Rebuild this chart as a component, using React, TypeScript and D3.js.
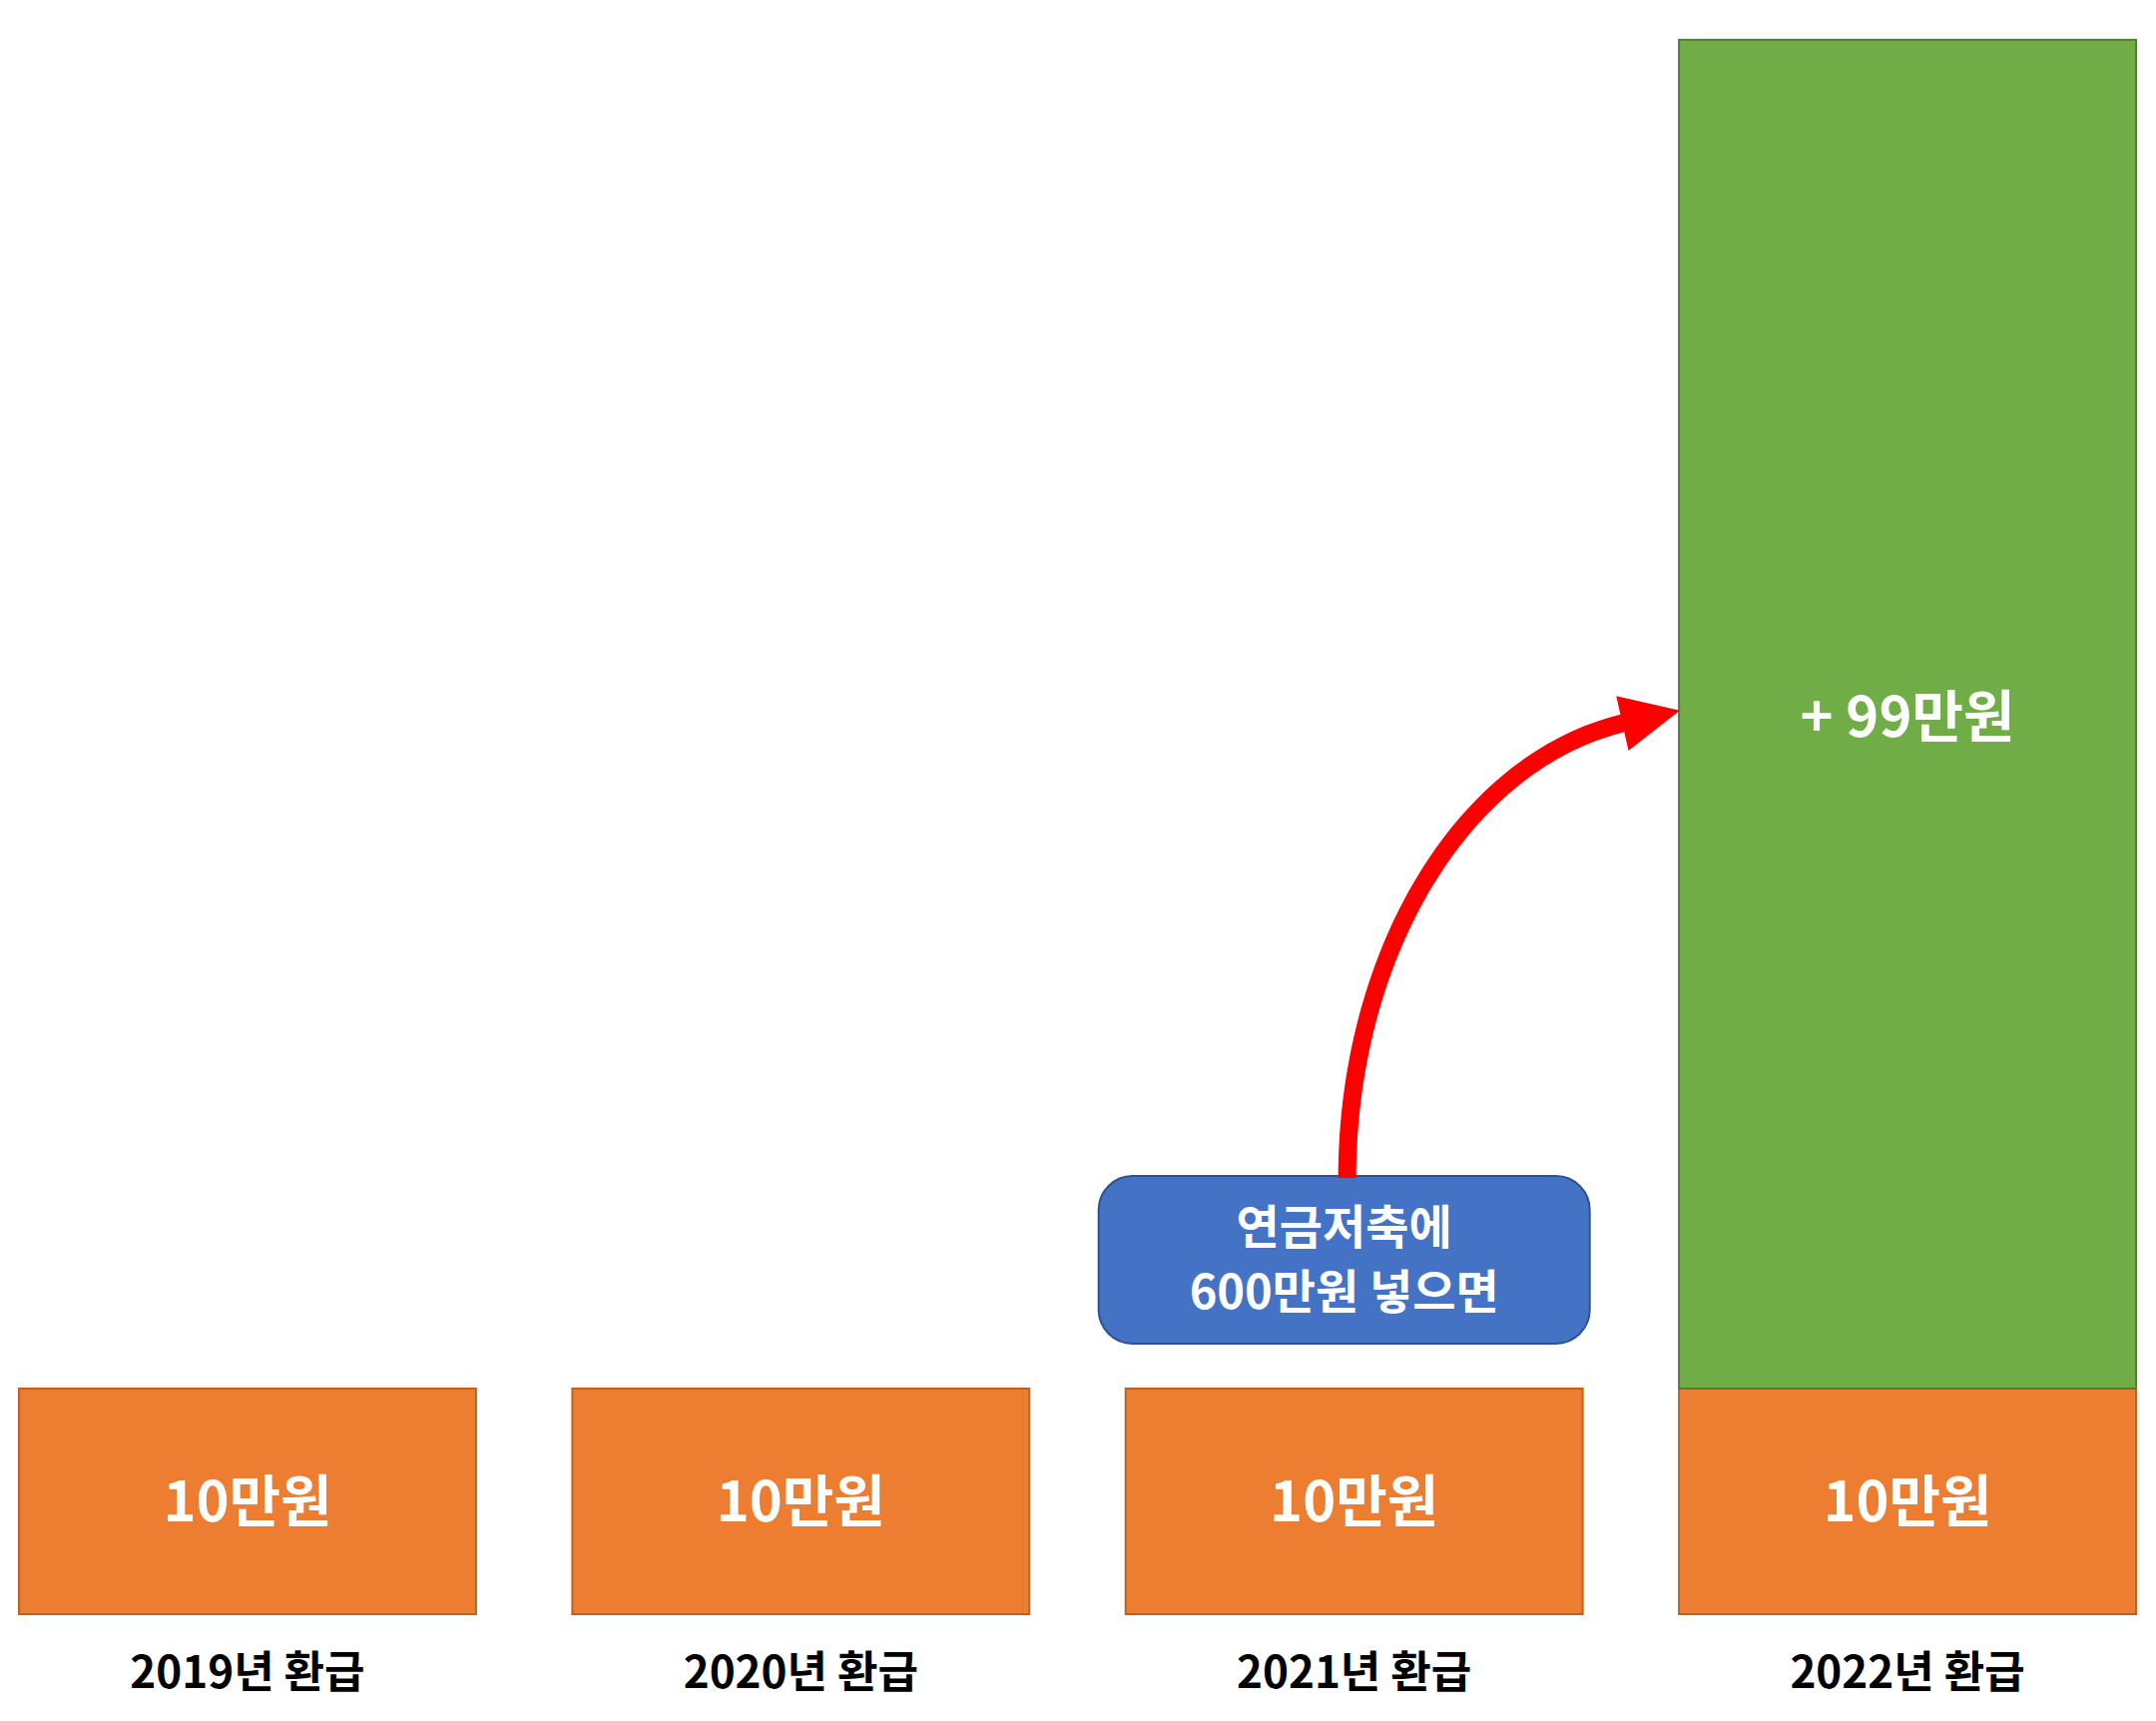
import React, { useEffect, useRef } from 'react';
import * as d3 from 'd3';

// refund per year, in 만원
const years = ['2019년 환급', '2020년 환급', '2021년 환급', '2022년 환급'];
const baseRefund = [10, 10, 10, 10];
const extraRefund = [0, 0, 0, 99];
const baseLabels = ['10만원', '10만원', '10만원', '10만원'];
const extraLabels = ['', '', '', '+ 99만원'];
const noteLines = ['연금저축에', '600만원 넣으면'];
const noteYear = '2021년 환급';

const W = 2160, H = 1724;
const FONT = '"Noto Sans CJK KR", "Noto Sans", sans-serif';

const App = () => {
    const ref = useRef(null);

    useEffect(() => {
        document.body.style.margin = '0';
        const svg = d3.select(ref.current);
        svg.selectAll('*').remove();
        svg.attr('width', W).attr('height', H);

        const baseline = 1617;

        const x = d3.scaleBand()
            .domain(years)
            .range([19, 2140])
            .paddingInner(0.174)
            .paddingOuter(0);

        // picture is not to scale, the big segment is squashed
        const h = d3.scalePow().exponent(0.78).domain([0, 10]).range([0, 226]);

        const data = years.map((y, i) => ({
            year: y,
            base: baseRefund[i],
            extra: extraRefund[i],
            baseLabel: baseLabels[i],
            extraLabel: extraLabels[i],
        }));

        const g = svg.append('g');

        const bar = g.selectAll('.bar')
            .data(data)
            .enter().append('g')
            .attr('class', 'bar');

        bar.append('rect')
            .attr('x', d => x(d.year))
            .attr('y', d => baseline - h(d.base))
            .attr('width', x.bandwidth())
            .attr('height', d => h(d.base))
            .attr('fill', '#ED7D31')
            .attr('stroke', '#C0621F')
            .attr('stroke-width', 2);

        bar.filter(d => d.extra > 0).append('rect')
            .attr('x', d => x(d.year))
            .attr('y', d => baseline - h(d.base) - h(d.extra))
            .attr('width', x.bandwidth())
            .attr('height', d => h(d.extra))
            .attr('fill', '#70AD47')
            .attr('stroke', '#507E32')
            .attr('stroke-width', 2);

        bar.append('text')
            .attr('x', d => x(d.year) + x.bandwidth() / 2)
            .attr('y', d => baseline - h(d.base) / 2)
            .attr('dy', '0.36em')
            .attr('text-anchor', 'middle')
            .attr('font-family', FONT)
            .attr('font-weight', 700)
            .attr('font-size', 56)
            .attr('fill', '#fff')
            .text(d => d.baseLabel);

        bar.filter(d => d.extra > 0).append('text')
            .attr('x', d => x(d.year) + x.bandwidth() / 2)
            .attr('y', d => baseline - h(d.base) - h(d.extra) + 678)
            .attr('dy', '0.36em')
            .attr('text-anchor', 'middle')
            .attr('font-family', FONT)
            .attr('font-weight', 700)
            .attr('font-size', 56)
            .attr('fill', '#fff')
            .text(d => d.extraLabel);

        bar.append('text')
            .attr('x', d => x(d.year) + x.bandwidth() / 2)
            .attr('y', baseline + 58)
            .attr('dy', '0.36em')
            .attr('text-anchor', 'middle')
            .attr('font-family', FONT)
            .attr('font-weight', 700)
            .attr('font-size', 44)
            .attr('fill', '#000')
            .text(d => d.year);

        // note box above the 2021 bar
        const boxW = 492, boxH = 168;
        const boxCx = x(noteYear) + x.bandwidth() / 2 - 10;
        const boxTop = baseline - h(10) - 45 - boxH;
        g.append('rect')
            .attr('x', boxCx - boxW / 2)
            .attr('y', boxTop)
            .attr('width', boxW)
            .attr('height', boxH)
            .attr('rx', 34)
            .attr('fill', '#4472C4')
            .attr('stroke', '#2F528F')
            .attr('stroke-width', 2);

        g.selectAll('.note')
            .data(noteLines)
            .enter().append('text')
            .attr('class', 'note')
            .attr('x', boxCx)
            .attr('y', (d, i) => boxTop + 51 + i * 65)
            .attr('dy', '0.36em')
            .attr('text-anchor', 'middle')
            .attr('font-family', FONT)
            .attr('font-weight', 700)
            .attr('font-size', 47)
            .attr('fill', '#fff')
            .text(d => d);

        // red curved arrow: quarter ellipse from the box to the green bar
        const last = data[data.length - 1];
        const tipX = x(last.year);
        const tipY = baseline - h(last.base) - h(last.extra) + 678;
        const startX = boxCx + 3;
        const startY = boxTop + 2;
        const rx = tipX - startX, ry = startY - tipY;
        const headLen = 55, headHalf = 28;
        // end of shaft on the ellipse
        const cosT = headLen / rx * 0.96;
        const sinT = Math.sqrt(1 - cosT * cosT);
        const endX = tipX - rx * cosT;
        const endY = startY - ry * sinT;
        const pts = d3.range(0, 61).map(k => {
            const t = (k / 60) * Math.asin(sinT);
            return [tipX - rx * Math.cos(t), startY - ry * Math.sin(t)];
        });
        g.append('path')
            .attr('d', d3.line()(pts))
            .attr('fill', 'none')
            .attr('stroke', '#FF0000')
            .attr('stroke-width', 18);

        let dx = rx * sinT, dy = -ry * cosT;
        const len = Math.hypot(dx, dy);
        dx /= len; dy /= len;
        const bx = endX - dx * 4, by = endY - dy * 4;
        const head = [
            [bx + dx * (headLen + 4), by + dy * (headLen + 4)],
            [bx - dy * headHalf, by + dx * headHalf],
            [bx + dy * headHalf, by - dx * headHalf],
        ];
        g.append('path')
            .attr('d', d3.line()(head) + 'Z')
            .attr('fill', '#FF0000');
    }, []);

    return <svg ref={ref} style={{ display: 'block' }}></svg>;
};

export default App;
